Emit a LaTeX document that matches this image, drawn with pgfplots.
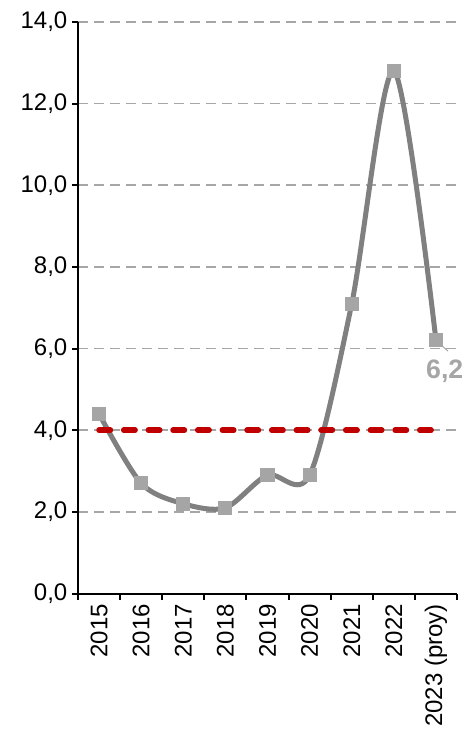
\documentclass[border=0pt]{standalone}
\usepackage{fontspec}
\setmainfont{Liberation Sans}
\usepackage{pgfplots}
\pgfplotsset{compat=1.18}
\definecolor{linegray}{HTML}{808080}
\definecolor{markgray}{HTML}{A5A5A5}
\definecolor{gridgray}{HTML}{A6A6A6}
\definecolor{darkred}{HTML}{C00000}

\begin{document}
\begin{tikzpicture}
\begin{axis}[
    scale only axis,
    width=284.25pt, height=428.6pt,
    xmin=-0.5, xmax=8.5,
    ymin=0, ymax=14,
    clip=false,
    axis lines*=left,
    axis line style={line width=1.5pt, black},
    tick align=outside,
    tick style={line width=1.5pt, black},
    major tick length=4.5pt,
    minor tick length=4.5pt,
    xtick={0,...,8},
    xticklabels={2015,2016,2017,2018,2019,2020,2021,2022,2023 (proy)},
    major x tick style={draw=none},
    minor xtick={-0.5,0.5,...,8.5},
    ytick={0,2,...,14},
    ymajorgrids,
    y grid style={gridgray, line width=1.2pt, dash pattern=on 7.5pt off 4.5pt},
    /pgf/number format/.cd, fixed, fixed zerofill, precision=1, use comma, assume math mode=true,
    /pgfplots/.cd,
    tick label style={font=\fontsize{18}{21}\selectfont},
    x tick label style={rotate=90, anchor=east},
  ]
  % linea de la inflacion
  \addplot[linegray, line width=3.75pt, smooth, tension=0.5, mark=square*,
    mark size=4.9pt, mark options={fill=markgray, draw=markgray, line width=0pt, solid}]
    coordinates {(0,4.4) (1,2.7) (2,2.2) (3,2.1) (4,2.9) (5,2.9) (6,7.1) (7,12.8) (8,6.2)};
  % meta
  \addplot[darkred, line width=4.2pt, line cap=round, mark=none,
    dash pattern=on 8.5pt off 10pt]
    coordinates {(0,4) (8,4)};
  \draw[gridgray, line width=0.75pt] (axis cs:8,6.2) ++(1pt,-1pt) -- ++(8pt,-7pt);
  \node[font=\bfseries\fontsize{20}{24}\selectfont, text=gridgray]
    at (axis cs:8,6.2) [xshift=6.6pt, yshift=-23pt] {6,2};
  \coordinate (sw) at (rel axis cs:0,0);
  \coordinate (ne) at (rel axis cs:1,1);
\end{axis}
\pgfresetboundingbox
\path ([shift={(-58.5pt,-103.1pt)}]sw) rectangle ([shift={(10.5pt,16.5pt)}]ne);
\end{tikzpicture}
\end{document}
